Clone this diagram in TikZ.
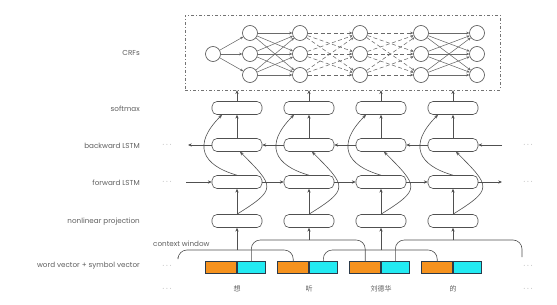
\documentclass[tikz,border=0pt]{standalone}
\usepackage{fontspec}
\setmainfont{Poppins}
\newfontfamily\cjk{Noto Sans CJK SC}
\usepackage{xcolor}
\definecolor{cLine}{HTML}{505050}
\definecolor{cText}{HTML}{5E5E5E}
\definecolor{cHead}{HTML}{1A1A1A}
\definecolor{cWord}{HTML}{F5921E}
\definecolor{cSym}{HTML}{22EAF2}
\definecolor{cEdge}{HTML}{2B3A4A}
\usepackage{tikz}
\usetikzlibrary{arrows.meta,calc}
\tikzset{
  node-cell/.style={draw=cLine,line width=0.6pt,rounded corners=5pt,
    minimum width=50pt,minimum height=13pt,inner sep=0pt},
  node-crf/.style={draw=cLine,line width=0.6pt,circle,minimum size=15pt,
    inner sep=0pt},
  node-box/.style={draw=cLine!80,dash pattern=on 3pt off 2pt on 1pt off 2pt,
    minimum width=315pt,minimum height=75pt,inner sep=0pt},
  node-word/.style={draw=cEdge,line width=0.6pt,fill=cWord,minimum width=31pt,
    minimum height=11.5pt,inner sep=0pt},
  node-sym/.style={draw=cEdge,line width=0.6pt,fill=cSym,minimum width=28pt,
    minimum height=11.5pt,inner sep=0pt},
  node-label/.style={anchor=east,text=cText,inner sep=0pt,
    font=\fontsize{7.2}{9}\selectfont},
  node-dots/.style={text=cText,inner sep=0pt,font=\scriptsize},
  arrow/.style={-{Stealth[length=3.8pt,width=3.2pt,fill=cHead]},draw=cLine,
    line width=0.6pt},
  arrow-crf/.style={-{Stealth[length=3pt,width=2.8pt,fill=cHead]},
    draw=cLine!85,line width=0.55pt},
  arrow-crf-dash/.style={arrow-crf,dash pattern=on 4pt off 2.5pt},
  window/.style={draw=cLine,line width=0.6pt,rounded corners=9pt},
}

\begin{document}
\begin{tikzpicture}[x=1pt,y=-1pt]
  \useasboundingbox (0,0) rectangle (557,305);
  % 左侧层名
  \node[node-label] (l-crf)  at (140,53)  {CRFs};
  \node[node-label] (l-soft) at (140,109) {softmax};
  \node[node-label] (l-bw)   at (140,146) {backward LSTM};
  \node[node-label] (l-fw)   at (140,183) {forward LSTM};
  \node[node-label] (l-proj) at (140,222) {nonlinear projection};
  \node[node-label] (l-vec)  at (140,266) {word vector + symbol vector};
  \node[node-label,anchor=west] (l-win) at (153,244) {context window};

  % CRF 部分
  \node[node-box] (crf) at (342.5,52.5) {};
  \node[node-crf] (crf1) at (213,54) {};
  \foreach \j/\x in {2/250,3/300,4/360,5/421,6/477}
    \foreach \r/\y in {1/33,2/54,3/75}
      \node[node-crf] (crf\j\r) at (\x,\y) {};
  \foreach \r in {1,2,3} {
    \draw[arrow-crf] (crf1) -- (crf2\r);
    \foreach \t in {1,2,3} {
      \draw[arrow-crf] (crf2\r) -- (crf3\t);
      \draw[arrow-crf-dash] (crf3\r) -- (crf4\t);
      \draw[arrow-crf-dash] (crf4\r) -- (crf5\t);
      \draw[arrow-crf] (crf5\r) -- (crf6\t);
    }
  }

  % 每一列：softmax / LSTM / projection / 向量
  \foreach \i/\x in {1/237,2/309,3/381,4/453} {
    \node[node-cell] (s\i) at (\x,108) {};
    \node[node-cell] (b\i) at (\x,145) {};
    \node[node-cell] (f\i) at (\x,182) {};
    \node[node-cell] (p\i) at (\x,221) {};
    \node[node-word,anchor=east] (w\i) at (\x,267.5) {};
    \node[node-sym,anchor=west]  (v\i) at (\x,267.5) {};
    \draw[arrow] (s\i.north) -- (s\i.north |- crf.south);
    \draw[arrow] (b\i.north) -- (s\i.south);
    \draw[arrow] (p\i.north) -- (f\i.south);
    \draw[arrow] (f\i.north) .. controls +(-35,-10) and +(-30,30)
      .. ([xshift=-15pt]s\i.south);
    \draw[arrow] (p\i.north) .. controls +(40,-25) and +(35,35)
      .. ([xshift=3pt]b\i.south);
  }
  \node[text=cText] (ch1) at (237,289) {\cjk\fontsize{7}{8}\selectfont 想};
  \node[text=cText] (ch2) at (309,289) {\cjk\fontsize{7}{8}\selectfont 听};
  \node[text=cText] (ch3) at (381,289) {\cjk\fontsize{7}{8}\selectfont 刘德华};
  \node[text=cText] (ch4) at (453,289) {\cjk\fontsize{7}{8}\selectfont 的};

  % LSTM 横向连接
  \coordinate (fw-in)  at (186,182);
  \coordinate (fw-out) at (502,182);
  \coordinate (bw-in)  at (502,145);
  \coordinate (bw-out) at (188,145);
  \draw[arrow] (fw-in) -- (f1.west);
  \draw[arrow] (f1.east) -- (f2.west);
  \draw[arrow] (f2.east) -- (f3.west);
  \draw[arrow] (f3.east) -- (f4.west);
  \draw[arrow] (f4.east) -- (fw-out);
  \draw[arrow] (bw-in) -- (b4.east);
  \draw[arrow] (b4.west) -- (b3.east);
  \draw[arrow] (b3.west) -- (b2.east);
  \draw[arrow] (b2.west) -- (b1.east);
  \draw[arrow] (b1.west) -- (bw-out);

  % context window
  \coordinate (win-l) at (178,257);
  \coordinate (win-r) at (522,257);
  \coordinate (k1) at (237,250);
  \coordinate (k2) at (309,240);
  \coordinate (k3) at (381,250);
  \coordinate (k4) at (453,240);
  \draw[window] (win-l) |- (k1) -| (w2.north);
  \draw[window] (v1.north) |- (k2) -| (w3.north);
  \draw[window] (v2.north) |- (k3) -| (w4.north);
  \draw[window] (v3.north) |- (k4) -| (win-r);
  \foreach \i in {1,2,3,4}
    \draw[arrow] (k\i) -- (p\i.south);

  % 省略号
  \foreach \y [count=\n] in {145,182,266,289} {
    \node[node-dots] (dl\n) at (167,\y) {$\cdots$};
    \node[node-dots] (dr\n) at (528,\y) {$\cdots$};
  }
\end{tikzpicture}
\end{document}
